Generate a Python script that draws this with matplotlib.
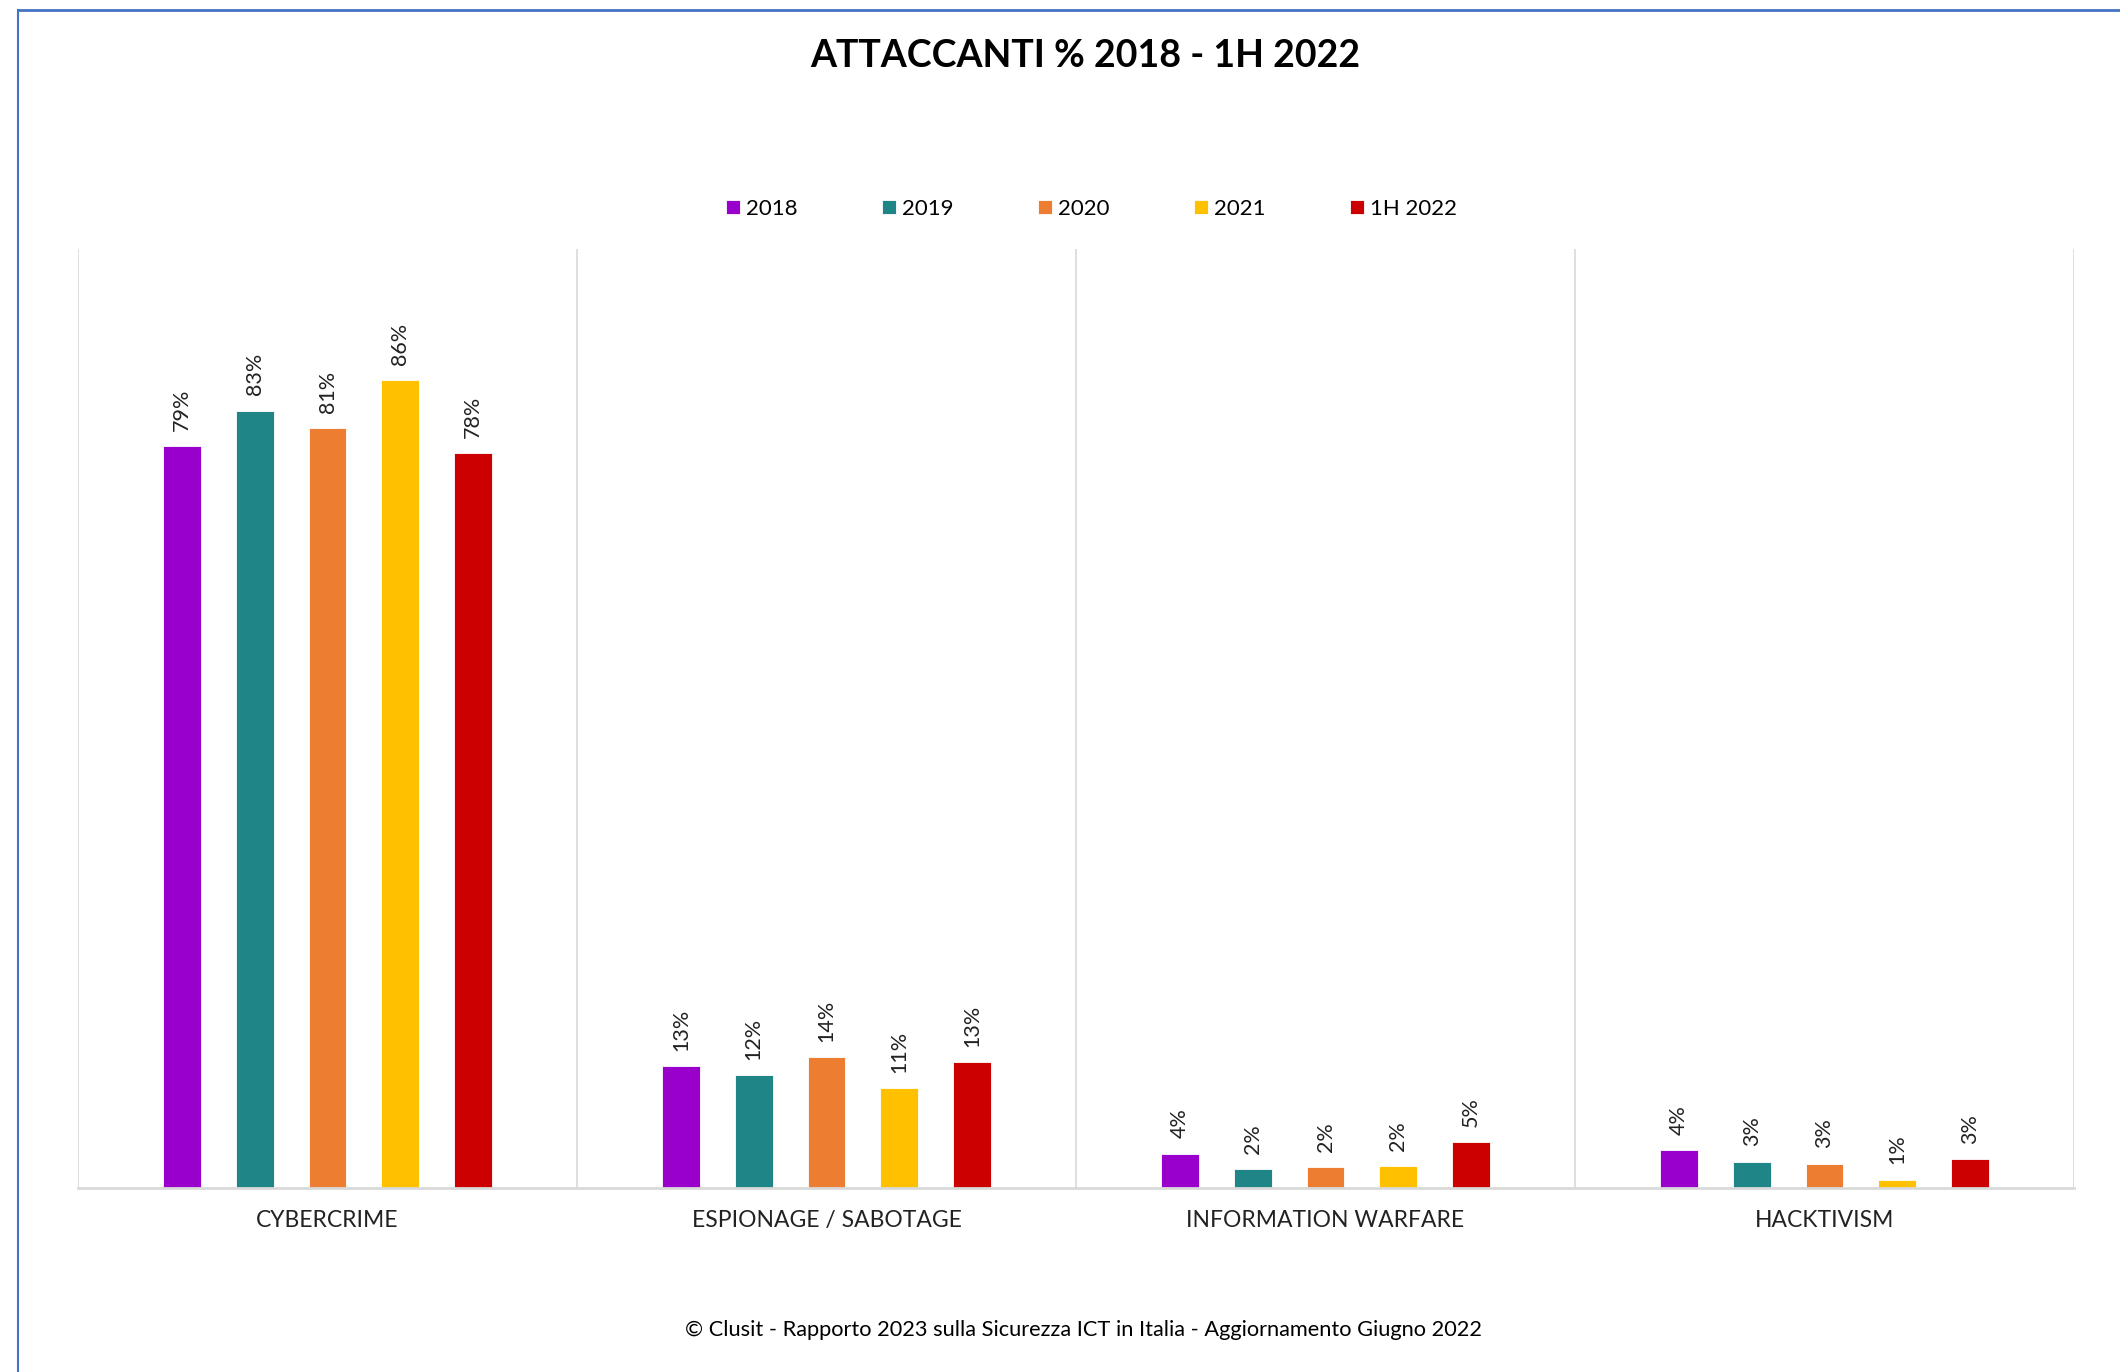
import numpy as np
import matplotlib
matplotlib.use('Agg')
import matplotlib.pyplot as plt
from matplotlib.lines import Line2D

plt.rcParams['font.family'] = ['Lato', 'DejaVu Sans']

categories = ['CYBERCRIME', 'ESPIONAGE / SABOTAGE', 'INFORMATION WARFARE', 'HACKTIVISM']
series = ['2018', '2019', '2020', '2021', '1H 2022']
colors = ['#9900CC', '#1F8587', '#ED7D31', '#FFC000', '#CC0000']

# percentuali per anno, stesso ordine di categories
v2018 = [79.0, 12.95, 3.65, 4.0]
v2019 = [82.8, 12.05, 2.0, 2.8]
v2020 = [80.95, 13.97, 2.23, 2.6]
v2021 = [86.0, 10.6, 2.3, 0.9]
v1h2022 = [78.3, 13.37, 4.89, 3.05]
values = [v2018, v2019, v2020, v2021, v1h2022]

fig = plt.figure(figsize=(21.2, 13.72), dpi=100)
ax = fig.add_axes([0.0368, 0.1341, 0.9415, 0.6844])

x = np.arange(len(categories))
step = 0.146
width = 0.076
for i, (name, vals, c) in enumerate(zip(series, values, colors)):
    pos = x + (i - 2) * step
    bars = ax.bar(pos, vals, width, color=c, label=name, edgecolor='white', linewidth=0.6, zorder=3)
    for b, v in zip(bars, vals):
        ax.annotate('{:.0f}%'.format(v), (b.get_x() + b.get_width() / 2, v),
                    xytext=(0, 11), textcoords='offset points', rotation=90,
                    ha='center', va='bottom', fontsize=15.5, color='#222222')

ax.set_xlim(-0.5, len(categories) - 0.5)
ax.set_ylim(0, 100)
ax.set_yticks([])
ax.set_xticks(x)
ax.set_xticklabels(categories, fontsize=16.5, color='#222222')
ax.tick_params(axis='x', length=0, pad=15.5)
for s in ['top', 'right', 'left']:
    ax.spines[s].set_visible(False)
ax.spines['bottom'].set_color('#D9D9D9')
ax.spines['bottom'].set_linewidth(2)
ax.spines['bottom'].set_zorder(4)
for b in np.arange(-0.5, len(categories), 1.0):
    ax.axvline(b, color='#D9D9D9', linewidth=1.2, zorder=1)

fig.text(0.512, 0.959, 'ATTACCANTI % 2018 - 1H 2022', ha='center', va='center',
         fontsize=27, fontweight='bold', color='black')

leg = fig.legend(loc='center', bbox_to_anchor=(0.515, 0.848), ncol=5, frameon=False,
                 fontsize=16, handlelength=0.6, handleheight=0.6, handletextpad=0.3,
                 columnspacing=3.8)

fig.text(0.511, 0.0305, '\u00a9 Clusit - Rapporto 2023 sulla Sicurezza ICT in Italia - Aggiornamento Giugno 2022',
         ha='center', va='center', fontsize=15.7, color='black')

# cornice blu in alto e a sinistra
fig.add_artist(Line2D([18 / 2120, 1.0], [1 - 10 / 1372, 1 - 10 / 1372], transform=fig.transFigure,
                      color='#4472C4', linewidth=2))
fig.add_artist(Line2D([18 / 2120, 18 / 2120], [0.0, 1 - 10 / 1372], transform=fig.transFigure,
                      color='#4472C4', linewidth=1.5))

fig.savefig('out.png', dpi=100)
